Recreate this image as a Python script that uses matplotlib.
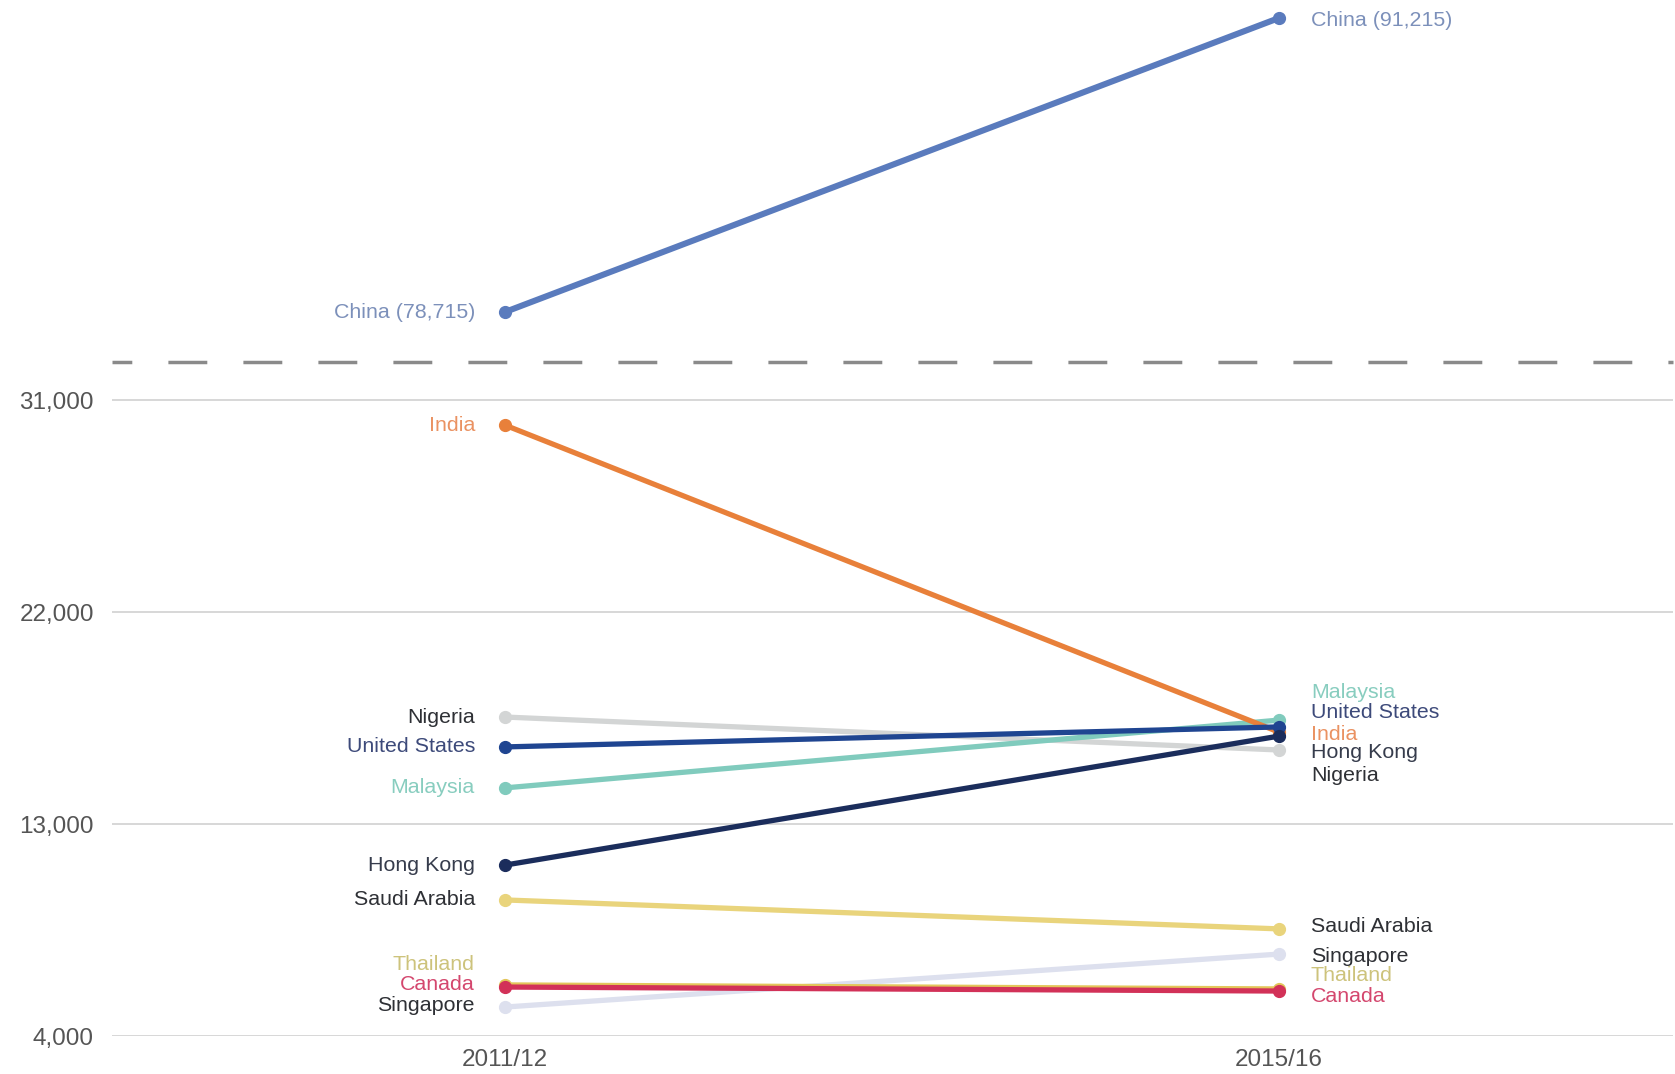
import matplotlib.pyplot as plt
from matplotlib.ticker import FuncFormatter

plt.rcParams['font.family'] = ['Liberation Sans', 'DejaVu Sans']

# data: international students by country, two academic years
years = ['2011/12', '2015/16']
countries = ['Singapore', 'Nigeria', 'Thailand', 'Canada', 'Saudi Arabia',
             'Malaysia', 'India', 'United States', 'Hong Kong']
start = [5230, 17550, 6170, 6080, 9780, 14540, 29950, 16280, 11260]
end = [7480, 16150, 6000, 5910, 8550, 17420, 16910, 17130, 16740]
china = [78715, 91215]

line_colors = {
    'Singapore': '#dde0ee', 'Nigeria': '#d3d5d5', 'Thailand': '#e3c65a',
    'Canada': '#d23158', 'Saudi Arabia': '#e9d47c', 'Malaysia': '#80cbbd',
    'India': '#e8803a', 'United States': '#1f4591', 'Hong Kong': '#1b2d5c',
}
label_colors = {
    'Singapore': '#2e3035', 'Nigeria': '#2e3035', 'Thailand': '#cdc37c',
    'Canada': '#d4476e', 'Saudi Arabia': '#2e3035', 'Malaysia': '#88cdbf',
    'India': '#ea9262', 'United States': '#3d4a7a', 'Hong Kong': '#363c4c',
}
# label nudges in pixels (left end, right end) to keep names apart
nudge = {
    'Singapore': (-2, 2), 'Nigeria': (0, 26), 'Thailand': (-20, -13),
    'Canada': (-3, 5), 'Saudi Arabia': (0, -2), 'Malaysia': (0, -28),
    'India': (0, 2), 'United States': (0, -14), 'Hong Kong': (0, 16),
}

W, H = 1675, 1074
x_left, x_right = 112, 1673      # plot area in pixels
y_base, y_break = 1036, 362      # 4,000 gridline and dashed break
px_per_k = 23.54                  # pixels per 1,000 students (lower panel)
x0_px, x1_px = 505, 1279          # where the two years sit

fig = plt.figure(figsize=(W / 100, H / 100), dpi=100)
ax = fig.add_axes([x_left / W, 1 - y_base / H, (x_right - x_left) / W,
                   (y_base - y_break) / H])
top = fig.add_axes([x_left / W, 1 - y_break / H, (x_right - x_left) / W,
                    y_break / H], sharex=ax)

unit = x1_px - x0_px
ax.set_xlim((x_left - x0_px) / unit, 1 + (x_right - x1_px) / unit)
ax.set_ylim(4000, 4000 + (y_base - y_break) / px_per_k * 1000)

# upper panel scale chosen so China's points sit at pixel rows 312 and 18
c_scale = (china[1] - china[0]) / (312 - 18)
top.set_ylim(china[0] - (y_break - 312) * c_scale, china[1] + 18 * c_scale)

fs = 15.4
xs = [0, 1]
for name, a, b in zip(countries, start, end):
    c = line_colors[name]
    ax.plot(xs, [a, b], color=c, lw=3.8, marker='o', ms=8.5,
            solid_capstyle='round', clip_on=False, zorder=3)
    dl, dr = nudge[name]
    ax.annotate(name, (0, a), xytext=(-30, -dl), textcoords='offset pixels',
                ha='right', va='center', fontsize=fs,
                color=label_colors[name])
    ax.annotate(name, (1, b), xytext=(32, -dr), textcoords='offset pixels',
                ha='left', va='center', fontsize=fs,
                color=label_colors[name])

top.plot(xs, china, color='#5a7bbd', lw=4.4, marker='o', ms=8.5,
         solid_capstyle='round', clip_on=False)
top.annotate('China ({:,})'.format(china[0]), (0, china[0]), xytext=(-30, 0),
             textcoords='offset pixels', ha='right', va='center',
             fontsize=fs, color='#7c90ba')
top.annotate('China ({:,})'.format(china[1]), (1, china[1]), xytext=(32, -2),
             textcoords='offset pixels', ha='left', va='center',
             fontsize=fs, color='#7c90ba')
top.axis('off')

# broken-axis marker
ax.axhline(ax.get_ylim()[1], color='#8a8a8a', lw=2.5,
           linestyle=(5.5, (11.2, 10.4)), clip_on=False)

ax.set_yticks([4000, 13000, 22000, 31000])
ax.yaxis.set_major_formatter(FuncFormatter(lambda v, p: '{:,.0f}'.format(v)))
ax.set_xticks(xs)
ax.set_xticklabels(years)
ax.grid(axis='y', color='#d4d4d4', lw=1.3)
ax.set_axisbelow(True)
ax.tick_params(axis='y', length=0, pad=13, labelsize=17.5, labelcolor='#555555')
ax.tick_params(axis='x', length=0, pad=9, labelsize=17.5, labelcolor='#555555')
for s in ax.spines.values():
    s.set_visible(False)

fig.savefig('out.png', dpi=100)
